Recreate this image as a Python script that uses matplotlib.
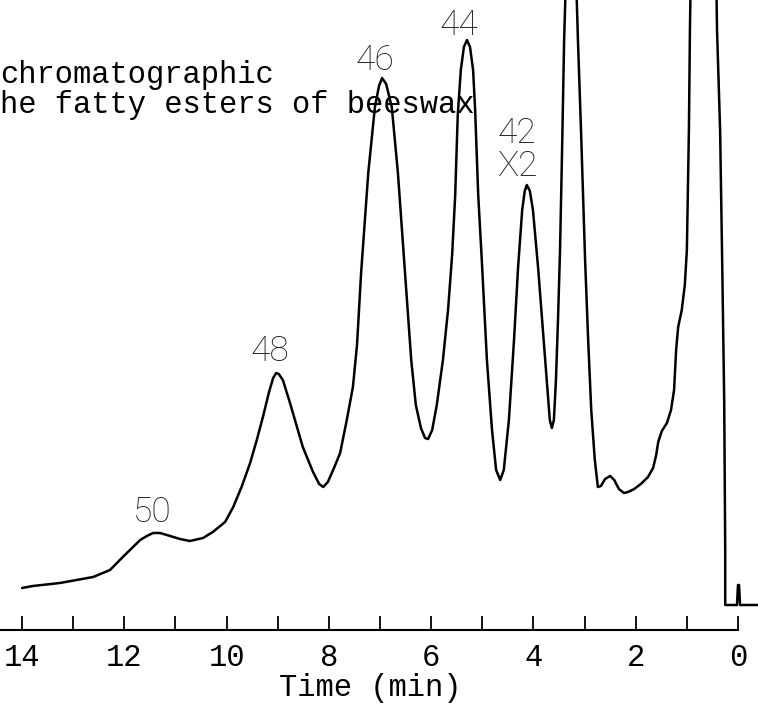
import matplotlib
matplotlib.use("Agg")
import matplotlib.pyplot as plt

# Gas chromatogram of beeswax fatty esters: retention time (min) vs detector response (arbitrary units)
time_min = [
    14.00, 13.79, 13.26, 12.61, 12.28, 12.03, 11.69, 11.56, 11.44, 11.30,
    11.17, 10.91, 10.72, 10.46, 10.27, 10.03, 9.87, 9.70, 9.54, 9.41,
    9.29, 9.17, 9.09, 9.03, 8.98, 8.90, 8.76, 8.51, 8.31, 8.19,
    8.11, 8.02, 7.90, 7.78, 7.65, 7.53, 7.45, 7.37, 7.23, 7.10,
    7.02, 6.96, 6.88, 6.77, 6.65, 6.51, 6.39, 6.30, 6.20, 6.12,
    6.06, 5.98, 5.89, 5.77, 5.67, 5.59, 5.53, 5.48, 5.42, 5.36,
    5.30, 5.24, 5.18, 5.14, 5.08, 5.01, 4.91, 4.81, 4.73, 4.65,
    4.58, 4.48, 4.38, 4.30, 4.22, 4.17, 4.13, 4.07, 4.01, 3.91,
    3.81, 3.73, 3.68, 3.64, 3.60, 3.56, 3.52, 3.48, 3.44, 3.40,
    3.36, 3.27, 3.17, 3.13, 3.07, 2.99, 2.93, 2.87, 2.80, 2.74,
    2.68, 2.60, 2.50, 2.42, 2.33, 2.23, 2.15, 2.03, 1.90, 1.76,
    1.66, 1.60, 1.56, 1.49, 1.39, 1.31, 1.25, 1.21, 1.17, 1.10,
    1.04, 1.00, 0.96, 0.94, 0.92, 0.80, 0.66, 0.53, 0.43, 0.41,
    0.35, 0.31, 0.27, 0.25, 0.25, 0.02, 0.00, -0.02, -0.04, -0.39,
]
response = [
    4.2, 4.4, 4.7, 5.3, 6.0, 7.3, 9.0, 9.4, 9.7, 9.7,
    9.5, 9.1, 8.9, 9.2, 9.8, 10.8, 12.3, 14.4, 16.7, 19.0,
    21.3, 23.8, 25.2, 25.7, 25.6, 25.0, 22.7, 18.3, 15.8, 14.6,
    14.3, 14.8, 16.2, 17.7, 21.0, 24.3, 28.5, 35.7, 45.7, 52.3,
    54.4, 55.2, 54.6, 52.3, 45.7, 35.7, 27.0, 22.5, 20.2, 19.2,
    19.1, 20.0, 22.5, 27.0, 32.0, 37.5, 43.5, 51.5, 56.0, 58.3,
    59.0, 58.3, 56.0, 52.0, 43.5, 37.0, 27.0, 20.0, 16.0, 15.0,
    16.0, 21.0, 29.0, 36.3, 42.0, 43.9, 44.5, 43.9, 42.0, 36.3,
    29.7, 24.5, 21.0, 20.2, 21.0, 25.0, 31.0, 38.0, 48.0, 59.0,
    66.0, 70.0, 66.0, 59.0, 50.0, 37.0, 29.0, 22.0, 17.0, 14.3,
    14.4, 15.1, 15.4, 15.0, 14.1, 13.7, 13.8, 14.1, 14.6, 15.3,
    16.2, 17.5, 18.8, 19.9, 20.7, 22.0, 24.0, 28.0, 30.3, 32.0,
    34.5, 38.0, 50.0, 60.0, 67.0, 72.0, 73.0, 72.0, 67.0, 60.0,
    50.0, 37.0, 23.0, 8.0, 2.5, 2.5, 4.5, 4.5, 2.5, 2.5,
]

# Carbon-number labels of the ester peaks
peak_labels = ["50", "48", "46", "44", "42\nX2"]
major_ticks = [0, 2, 4, 6, 8, 10, 12, 14]
tick_labels = ["0", "2", "4", "6", "8", "10", "12", "14"]
minor_ticks = [1, 3, 5, 7, 9, 11, 13]

TYPE = "Liberation Mono"
LETTER = "Roboto"

fig = plt.figure(figsize=(7.58, 7.05), dpi=100)
ax = fig.add_axes([0, 0, 1, 1])
ax.set_xlim(14.431, -0.391)
ax.set_ylim(-7.5, 63.0)

ax.plot(time_min, response, color="black", lw=1.8, solid_joinstyle="round",
        solid_capstyle="round", zorder=3)

# time axis drawn as a single ruled line with upward ticks
for side in ("left", "right", "top"):
    ax.spines[side].set_visible(False)
ax.spines["bottom"].set_position(("data", 0))
ax.spines["bottom"].set_bounds(0, 14.45)
ax.spines["bottom"].set_linewidth(1.5)
ax.yaxis.set_visible(False)
ax.set_xticks(major_ticks)
ax.set_xticklabels(tick_labels, fontfamily=TYPE, fontsize=22)
ax.set_xticks(minor_ticks, minor=True)
ax.tick_params(axis="x", which="both", direction="in", length=10, width=1.3,
               pad=9, colors="black")
ax.patch.set_visible(False)

ax.text(7.20, -5.8, "Time (min)", fontfamily=TYPE, fontsize=22,
        ha="center", va="center")

# caption (typed)
fig.text(0.0, 1 - 83 / 705, "chromatographic", fontfamily=TYPE, fontsize=22,
         ha="left", va="baseline", zorder=1)
fig.text(0.0, 1 - 113 / 705, "he fatty esters of beeswax", fontfamily=TYPE,
         fontsize=22, ha="left", va="baseline", zorder=1)

label_pos = [(11.46, 11.8), (9.15, 27.9), (7.10, 57.0), (5.46, 60.5), (4.32, 48.0)]
for txt, (tx, ty) in zip(peak_labels, label_pos):
    ax.text(tx, ty, txt, fontfamily=LETTER, fontweight="light", fontsize=25.5,
            ha="center", va="center", linespacing=1.0, color="#222222", zorder=4)

fig.savefig("out.png", dpi=100)
